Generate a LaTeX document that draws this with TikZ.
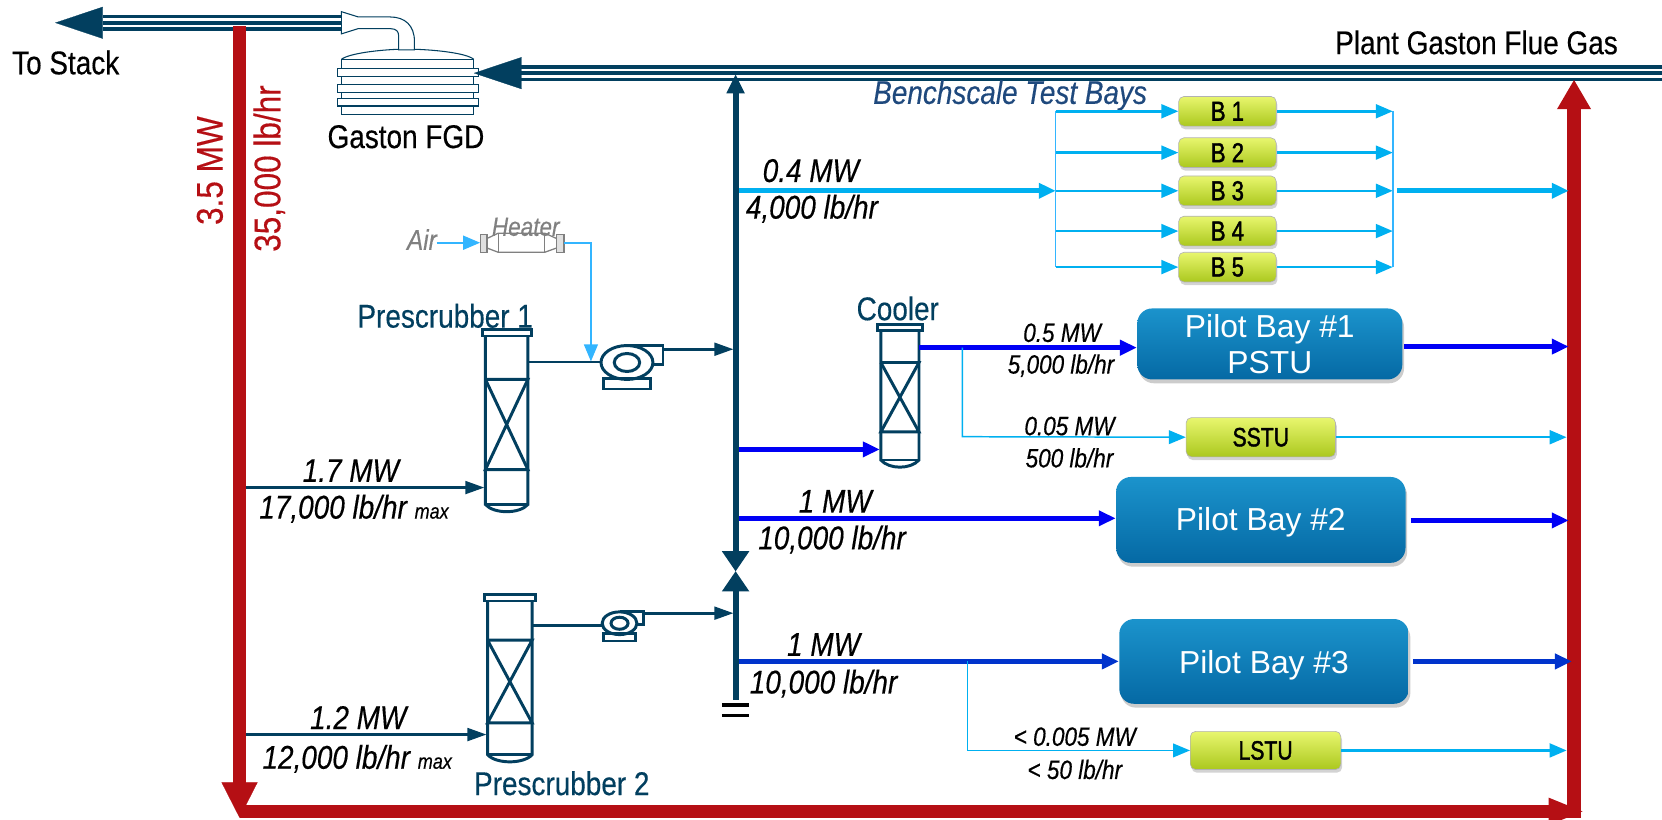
\documentclass[tikz,border=0pt]{standalone}
\usepackage{fontspec}
\setmainfont{Liberation Sans}[FakeStretch=0.85, FakeBold=0.35]
\newfontfamily\widefont{Liberation Sans}
\newfontfamily\benchfont{Liberation Sans}[FakeStretch=0.8, FakeBold=1.5]
\usetikzlibrary{arrows.meta, shadows}

\definecolor{pipecol}{HTML}{023F5F}
\definecolor{stackred}{HTML}{B50F14}
\definecolor{benchcyan}{HTML}{00B0F0}
\definecolor{aircyan}{HTML}{33B5FF}
\definecolor{pilotblue}{HTML}{0000F5}
\definecolor{deepblue}{HTML}{0033CC}
\definecolor{titleblue}{HTML}{1F497D}
\definecolor{benchtop}{HTML}{E8F66E}
\definecolor{benchmid}{HTML}{D0E83A}
\definecolor{benchlow}{HTML}{ABC81E}
\definecolor{pilottop}{HTML}{1B93CC}
\definecolor{pilotmid}{HTML}{0C80BC}
\definecolor{pilotlow}{HTML}{0569A4}

\tikzset{
  redline/.style={stackred, line width=6.5pt, -{Triangle[length=14pt, width=15pt]}},
  trio/.style={pipecol, line width=7.5pt, postaction={draw, white, line width=4.3pt}, postaction={draw, pipecol, line width=1.7pt}},
  triohead/.style={pipecol, line width=.1pt, -{Triangle[length=22.5pt, width=15pt]}},
  darkline/.style={pipecol, line width=1.3pt, -{Stealth[length=9pt, width=6pt, inset=0pt]}},
  mainline/.style={pipecol, line width=2.8pt},
  cyanfat/.style={benchcyan, line width=2.4pt, -{Triangle[length=8pt, width=7pt]}},
  cyanline/.style={benchcyan, line width=1.2pt, -{Triangle[length=8pt, width=6.5pt]}},
  cyanbus/.style={aircyan, line width=.7pt},
  bluefat/.style={pilotblue, line width=2.4pt, -{Triangle[length=8pt, width=7pt]}},
  deepfat/.style={deepblue, line width=2.4pt, -{Triangle[length=8pt, width=7pt]}},
  vessel/.style={pipecol, line width=1.4pt},
  thinvessel/.style={pipecol, line width=.5pt},
  heaterline/.style={gray, line width=.6pt},
  bench/.style={draw=black!30, line width=.3pt, rounded corners=2.5pt, top color=benchtop, middle color=benchmid, bottom color=benchlow, drop shadow={shadow xshift=.6pt, shadow yshift=-1.5pt, opacity=.35}, font=\benchfont\fontsize{13}{14}\selectfont, inner sep=0pt},
  pilot/.style={rounded corners=7pt, top color=pilottop, middle color=pilotmid, bottom color=pilotlow, drop shadow={shadow xshift=.8pt, shadow yshift=-1.8pt, opacity=.4}, text=white, align=center, font=\widefont\fontsize{15}{17}\selectfont, inner sep=0pt},
  flow/.style={font=\itshape\fontsize{15.5}{17}\selectfont},
  flowsmall/.style={font=\itshape\fontsize{12.5}{14}\selectfont},
  label/.style={font=\fontsize{15.5}{17}\selectfont},
  equip/.style={pipecol, font=\fontsize{15.5}{17}\selectfont},
  greylabel/.style={gray, font=\itshape\fontsize{12.5}{14}\selectfont},
  redlabel/.style={stackred, rotate=90, font=\fontsize{17.5}{19}\selectfont}
}

% column: left, right, top, band 1, band 2, bottom
\newcommand{\columnvessel}[6]{
  \draw[vessel] (#1-3,#3-6) rectangle (#2+3,#3);
  \draw[vessel] (#1,#3) -- (#1,#6) .. controls (#1+8,#6+9) and (#2-8,#6+9) .. (#2,#6) -- (#2,#3);
  \draw[vessel] (#1,#6) -- (#2,#6);
  \draw[vessel] (#1,#4) -- (#2,#4) -- (#1,#5) -- (#2,#5) -- (#1,#4);
}
% fan: centre x, centre y, scale
\newcommand{\fanpump}[3]{
  \begin{scope}[shift={(#1,#2)}, scale=#3]
    \draw[vessel] (0,-16) -- (34,-16) -- (34,2) -- (20,2);
    \draw[vessel, fill=white] (0,0) ellipse [x radius=24.5, y radius=16];
    \draw[vessel] (0,0) ellipse [x radius=12, y radius=8.5];
    \draw[vessel] (-22,15) rectangle (22,25);
  \end{scope}
}

\begin{document}
\begin{tikzpicture}[x=0.5pt, y=-0.5pt]
  \useasboundingbox (0,0) rectangle (1568,773.6);

  % Puntos
  \coordinate (stackTip) at (52,21.5);
  \coordinate (stackBase) at (97,21.5);
  \coordinate (fgdOut) at (322,21.5);
  \coordinate (stackTee) at (226,25);
  \coordinate (leftEnd) at (226,771.5);
  \coordinate (leftCorner) at (226,765.5);
  \coordinate (rightCorner) at (1495,765.5);
  \coordinate (rightStart) at (1485,771.5);
  \coordinate (rightTop) at (1485,75);
  \coordinate (flueStart) at (1568,69);
  \coordinate (flueBase) at (491,69);
  \coordinate (flueTip) at (447,69);
  \coordinate (mainTop) at (694,70);
  \coordinate (mainBottom) at (694,660);

  % Gaston FGD
  \draw[thinvessel, fill=white] (322,11) -- (338,16) -- (368,16) .. controls (382,16) and (391,24) .. (391,39) -- (391,47) -- (376,47) -- (376,33) .. controls (376,30) and (374,27) .. (368,27) -- (338,27) -- (322,32) -- cycle;
  \draw[thinvessel] (322,56) .. controls (330,50) and (360,47) .. (376,46.5);
  \draw[thinvessel] (391,46.5) .. controls (410,47) and (440,50) .. (447,56);
  \draw[thinvessel] (322,56) rectangle (447,108);
  \foreach \fy in {65,80,93} {
    \draw[thinvessel, fill=white] (318,\fy) rectangle (451,\fy+7);
  }
  \node[label] (fgd) at (383,129) {Gaston FGD};

  % Tuberias
  \draw[trio] (fgdOut) -- (stackBase);
  \draw[triohead] (stackBase) -- (stackTip);
  \draw[trio] (flueStart) -- (flueBase);
  \draw[triohead] (flueBase) -- (flueTip);

  \draw[stackred, line width=5.8pt] (stackTee) -- (226,742);
  \draw[stackred, line width=.1pt, -{Triangle[length=16.7pt, width=17pt]}] (226,738) -- (leftEnd);
  \draw[stackred, line width=6.2pt, -{Triangle[length=17pt, width=11.5pt]}] (leftCorner) -- (rightCorner);
  \draw[redline] (rightStart) -- (rightTop);

  \node[label] (toStack) at (62,59) {To Stack};
  \node[label] (flueGas) at (1393,40) {Plant Gaston Flue Gas};
  \node[redlabel] (redMW) at (198,161) {3.5 MW};
  \node[redlabel] (redLb) at (254,159) {35,000 lb/hr};

  % Linea principal
  \draw[mainline, -{Triangle[length=9pt, width=8pt]}] (694,520) -- (mainTop);
  \draw[mainline] (694,558) -- (mainBottom);
  \fill[pipecol] (681,520) -- (707,520) -- (681,558) -- (707,558) -- cycle;
  \draw[black, line width=1.6pt] (681,665) -- (707,665);
  \draw[black, line width=1.6pt] (681,675) -- (707,675);

  % Prescrubbers
  \columnvessel{458}{498}{317}{358}{443}{476}
  \columnvessel{460}{502}{567}{604}{682}{712}
  \fanpump{591.5}{342}{1}
  \fanpump{584.5}{588}{.67}
  \coordinate (pumpOneIn) at (567,341.5);
  \coordinate (pumpTwoIn) at (568,590);
  \draw[pipecol, line width=1.3pt] (498,341.5) -- (pumpOneIn);
  \draw[pipecol, line width=1.3pt] (502,590) -- (pumpTwoIn);
  \draw[darkline] (626,329.5) -- (692,329.5);
  \draw[darkline] (608,578.5) -- (692,578.5);
  \draw[darkline] (232,460) -- (457,460);
  \draw[darkline] (232,693) -- (459,693);
  \node[equip] (scrubOne) at (420,298) {Prescrubber 1};
  \node[equip] (scrubTwo) at (530,739) {Prescrubber 2};
  \node[flow] (oneSevenMW) at (331,444) {1.7 MW};
  \node[flow] (oneSevenLb) at (334,480) {17,000 lb/hr {\fontsize{10}{12}\selectfont max}};
  \node[flow] (oneTwoMW) at (338,677) {1.2 MW};
  \node[flow] (oneTwoLb) at (337,716) {12,000 lb/hr {\fontsize{10}{12}\selectfont max}};

  % Heater
  \draw[heaterline, fill=black!12] (453,221) rectangle (459.5,238);
  \draw[heaterline, fill=black!12] (525,221) rectangle (532,238);
  \draw[heaterline] (459.5,225) -- (470,220) -- (514,220) -- (525,225) (525,234) -- (514,238) -- (470,238) -- (459.5,234);
  \draw[heaterline] (470,220) -- (470,238) (514,220) -- (514,238);
  \node[greylabel, font=\itshape\fontsize{13.5}{15}\selectfont] (air) at (398,226) {Air};
  \node[greylabel] (heater) at (496,214) {Heater};
  \draw[aircyan, line width=1.1pt, -{Triangle[length=8pt, width=6.5pt]}] (412,229) -- (453,229);
  \draw[aircyan, line width=.8pt, -{Triangle[length=8pt, width=6.5pt]}] (532,229) -- (557.5,229) -- (557.5,341);

  % Benchscale
  \node[font=\itshape\fontsize{15.5}{17}\selectfont, text=titleblue] (benchTitle) at (953,90) {Benchscale Test Bays};
  \foreach \bn/\by in {1/105, 2/144, 3/180, 4/218, 5/252} {
    \node[bench, minimum width=46pt, minimum height=14pt] (B\bn) at (1158,\by) {B \bn};
    \coordinate (inB\bn) at (996,\by);
    \coordinate (outB\bn) at (1314,\by);
    \draw[cyanline] (inB\bn) -- (B\bn);
    \draw[cyanline] (B\bn) -- (outB\bn);
  }
  \draw[cyanbus] (inB1) -- (inB5);
  \draw[cyanbus] (outB1) -- (outB5);
  \draw[cyanfat] (697,180) -- (inB3);
  \draw[cyanfat] (1318,180) -- (1480,180);
  \node[flow] (benchMW) at (765,161) {0.4 MW};
  \node[flow] (benchLb) at (766,197) {4,000 lb/hr};

  % Cooler
  \columnvessel{831}{867}{312}{342}{407.5}{434}
  \node[equip] (cooler) at (847,291) {Cooler};
  \draw[bluefat] (697,424) -- (830,424);

  % Bahias piloto
  \node[pilot, minimum width=125pt, minimum height=33.5pt] (bayOne) at (1198,324.5) {Pilot Bay \#1\\PSTU};
  \node[pilot, minimum width=136.5pt, minimum height=40.5pt] (bayTwo) at (1189.5,490.5) {\raisebox{-5.2pt}[0pt][0pt]{Pilot Bay \#2}};
  \node[pilot, minimum width=136.5pt, minimum height=40pt] (bayThree) at (1192.5,624) {\raisebox{-5.5pt}[0pt][0pt]{Pilot Bay \#3}};
  \node[bench, minimum width=70.5pt, minimum height=18.5pt, font=\benchfont\fontsize{12.5}{14}\selectfont] (sstu) at (1189.5,412.5) {SSTU};
  \node[bench, minimum width=71pt, minimum height=18pt, font=\benchfont\fontsize{12.5}{14}\selectfont] (lstu) at (1194,708) {LSTU};

  \coordinate (coolerOut) at (867,328);
  \coordinate (teeOne) at (908,328);
  \coordinate (teeThree) at (913,624);
  \draw[bluefat] (coolerOut) -- (bayOne.west |- coolerOut);
  \draw[cyanline, line width=.7pt] (teeOne) -- (908,412) -- (sstu.west);
  \draw[bluefat] (1325,327) -- (1480,327);
  \draw[cyanline] (sstu.east) -- (1478,412.5);
  \draw[bluefat] (697,489) -- (bayTwo.west |- 0,489);
  \draw[bluefat] (1331,491) -- (1480,491);
  \draw[deepfat] (697,624) -- (bayThree.west);
  \draw[deepfat] (1333,624) -- (1483,624);
  \draw[cyanline, line width=.7pt] (teeThree) -- (913,708) -- (lstu.west);
  \draw[cyanline] (lstu.east) -- (1478,708);

  \node[flowsmall] (bayOneMW) at (1002,314) {0.5 MW};
  \node[flowsmall] (bayOneLb) at (1001,345) {5,000 lb/hr};
  \node[flowsmall] (sstuMW) at (1009,402) {0.05 MW};
  \node[flowsmall] (sstuLb) at (1009,432) {500 lb/hr};
  \node[flow] (bayTwoMW) at (788,473) {1 MW};
  \node[flow] (bayTwoLb) at (785,509) {10,000 lb/hr};
  \node[flow] (bayThreeMW) at (777,608) {1 MW};
  \node[flow] (bayThreeLb) at (777,645) {10,000 lb/hr};
  \node[flowsmall] (lstuMW) at (1014,695) {< 0.005 MW};
  \node[flowsmall] (lstuLb) at (1014,726) {< 50 lb/hr};
\end{tikzpicture}
\end{document}
